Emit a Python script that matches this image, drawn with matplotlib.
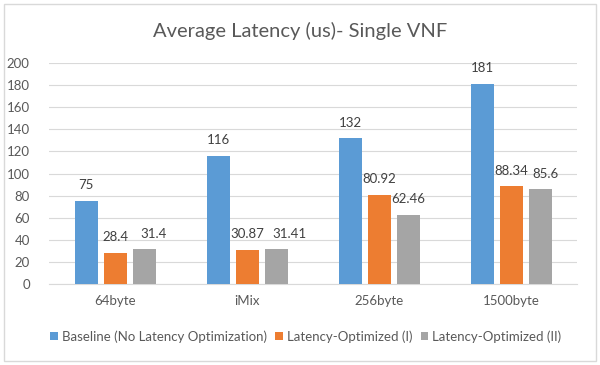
import numpy as np
import matplotlib.pyplot as plt
from matplotlib.patches import Rectangle

# datos del grafico
categorias = ["64byte", "iMix", "256byte", "1500byte"]
series = ["Baseline (No Latency Optimization)", "Latency-Optimized (I)", "Latency-Optimized (II)"]
baseline = [75, 116, 132, 181]
optimizado_1 = [28.4, 30.87, 80.92, 88.34]
optimizado_2 = [31.4, 31.41, 62.46, 85.6]
etiquetas_1 = ["28.4", "30.87", "80.92", "88.34"]
etiquetas_2 = ["31.4", "31.41", "62.46", "85.6"]

colores = ["#5B9BD5", "#ED7D31", "#A5A5A5"]
texto = "#595959"
# desplazamiento horizontal (pixeles) de las etiquetas de la tercera serie
desplazamiento_2 = [9, 13, 0, 5]

plt.rcParams['font.family'] = ['Lato', 'DejaVu Sans']

fig = plt.figure(figsize=(6, 3.65), dpi=100)
fig.patches.append(Rectangle((0.007, 0.012), 0.986, 0.978, transform=fig.transFigure,
                             fill=False, edgecolor="#D9D9D9", linewidth=1))
ax = fig.add_axes([0.082, 0.222, 0.88, 0.605])

x = np.arange(len(categorias))
ancho = 0.174
paso = 0.22
valores = [baseline, optimizado_1, optimizado_2]
etiquetas = [[str(v) for v in baseline], etiquetas_1, etiquetas_2]
desplazamientos = [[0] * 4, [0] * 4, desplazamiento_2]
pt = 72 / fig.dpi
for i, (vals, col, nombre) in enumerate(zip(valores, colores, series)):
    pos = x + (i - 1) * paso
    ax.bar(pos, vals, width=ancho, color=col, label=nombre, zorder=3)
    for p, v, t, dx in zip(pos, vals, etiquetas[i], desplazamientos[i]):
        ax.annotate(t, (p, v), xytext=(dx * pt, 7), textcoords="offset points",
                    ha="center", va="bottom", fontsize=9.5, color="#404040")

ax.set_ylim(0, 200)
ax.set_xlim(-0.5, 3.5)
ax.set_yticks(range(0, 201, 20))
ax.set_xticks(x)
ax.set_xticklabels(categorias)
ax.tick_params(axis="both", length=0, labelsize=9.5, colors=texto)
ax.tick_params(axis="y", pad=14)
ax.tick_params(axis="x", pad=8)
ax.grid(axis="y", color="#D9D9D9", linewidth=0.8, zorder=0)
for s in ["top", "right", "left"]:
    ax.spines[s].set_visible(False)
ax.spines["bottom"].set_color("#D9D9D9")

fig.text(0.5, 0.915, "Average Latency (us)- Single VNF", ha="center", va="center",
         fontsize=14.5, color=texto)
fig.legend(loc="center", bbox_to_anchor=(0.51, 0.078), ncol=3, frameon=False,
           fontsize=9.5, handlelength=0.6, handleheight=0.6, handletextpad=0.3,
           columnspacing=0.6, labelcolor=texto)

fig.savefig("out.png", dpi=100)
